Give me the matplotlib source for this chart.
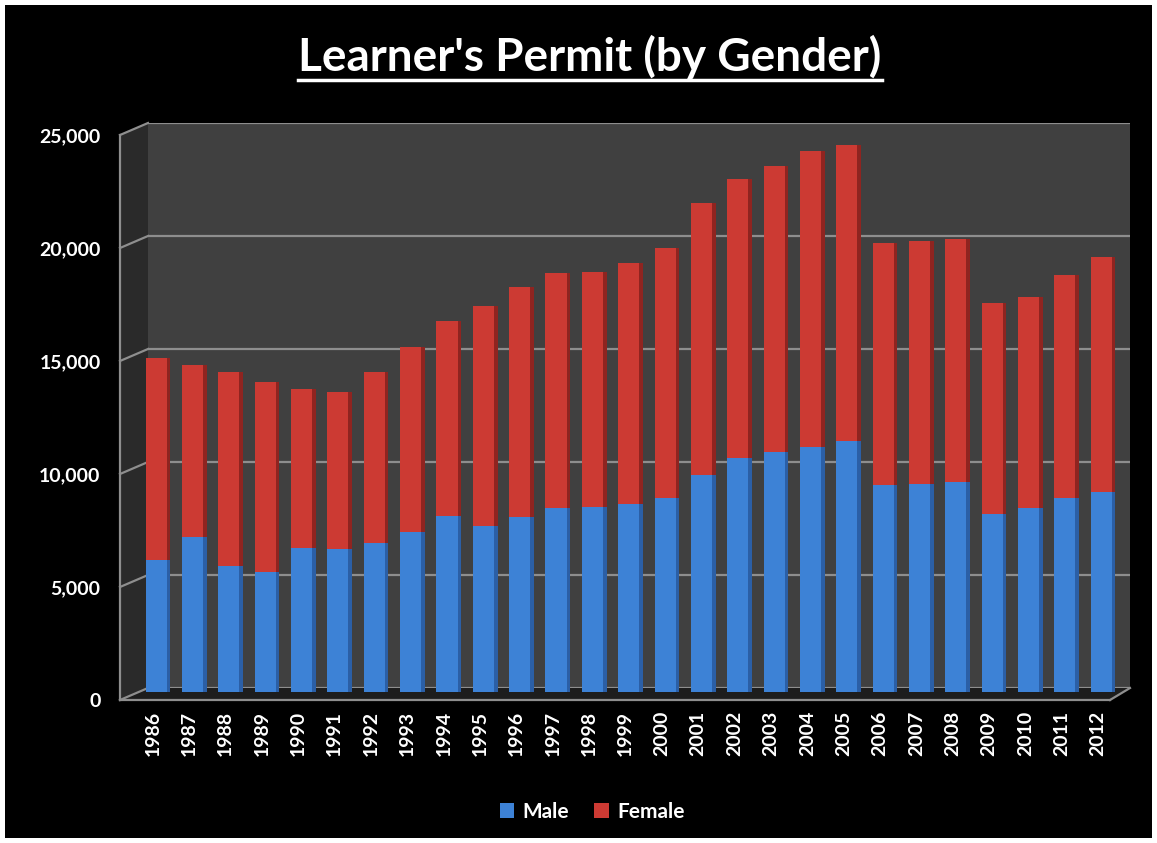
import matplotlib
matplotlib.use("Agg")
import matplotlib.pyplot as plt
from matplotlib.patches import Polygon, Rectangle, Patch
from matplotlib.lines import Line2D
from matplotlib.ticker import FuncFormatter

# ---------------------------------------------------------
# data
# ---------------------------------------------------------
years = [1986, 1987, 1988, 1989, 1990, 1991, 1992, 1993, 1994, 1995,
         1996, 1997, 1998, 1999, 2000, 2001, 2002, 2003, 2004, 2005,
         2006, 2007, 2008, 2009, 2010, 2011, 2012]
male = [5840, 6860, 5580, 5310, 6370, 6330, 6590, 7080, 7790, 7350,
        7740, 8140, 8190, 8320, 8580, 9600, 10350, 10620, 10840, 11110,
        9160, 9200, 9290, 7880, 8140, 8580, 8850]
total = [14780, 14470, 14160, 13720, 13410, 13270, 14160, 15270, 16420, 17080,
         17920, 18540, 18580, 18980, 19650, 21640, 22700, 23270, 23940, 24200,
         19870, 19960, 20040, 17210, 17480, 18450, 19250]
female = [t - m for t, m in zip(total, male)]

y_ticks = [0, 5000, 10000, 15000, 20000, 25000]
title = "Learner's Permit (by Gender)"

# ---------------------------------------------------------
# layout helpers (pixels -> figure fraction)
# ---------------------------------------------------------
W, H = 1157, 843
FONT = "Lato"


def fx(x):
    return x / W


def fy(y):
    return 1 - y / H


def box(left, top, right, bottom):
    return [fx(left), fy(bottom), (right - left) / W, (bottom - top) / H]


fig = plt.figure(figsize=(W / 100, H / 100), dpi=100, facecolor="white")

# black chart area with thin white border
fig.patches.append(Rectangle((fx(5), fy(838)), fx(1147), (833) / H,
                             transform=fig.transFigure, facecolor="black",
                             edgecolor="none", zorder=-5))

# back wall
WALL_TOP, WALL_BOT = 123, 688
back = fig.add_axes(box(148, WALL_TOP, 1130, WALL_BOT), zorder=0)
back.set_facecolor("#404040")
back.set_ylim(0, 25000)
back.set_yticks(y_ticks)
back.yaxis.grid(True, color="#8e8e8e", linewidth=1.6)
back.tick_params(left=False, bottom=False, labelleft=False, labelbottom=False)
for s in back.spines.values():
    s.set_visible(False)

# side wall + floor
scale = (WALL_BOT - WALL_TOP) / 25000
side = Polygon([(fx(120), fy(700 - 25000 * scale)), (fx(148), fy(WALL_TOP)),
                (fx(148), fy(WALL_BOT)), (fx(120), fy(700))],
               closed=True, transform=fig.transFigure,
               facecolor="#2a2a2a", edgecolor="none", zorder=1)
fig.patches.append(side)
floor = Polygon([(fx(120), fy(700)), (fx(148), fy(WALL_BOT)),
                 (fx(1130), fy(WALL_BOT)), (fx(1110), fy(700))],
                closed=True, transform=fig.transFigure,
                facecolor="#1d1d1d", edgecolor="none", zorder=1)
fig.patches.append(floor)
for v in y_ticks:
    fig.lines.append(Line2D([fx(120), fx(148)],
                            [fy(700 - v * scale), fy(WALL_BOT - v * scale)],
                            transform=fig.transFigure, color="#8e8e8e",
                            linewidth=1.6, zorder=2))
fig.lines.append(Line2D([fx(1110), fx(1130)], [fy(700), fy(WALL_BOT)],
                        transform=fig.transFigure, color="#8e8e8e",
                        linewidth=1.6, zorder=2))

# ---------------------------------------------------------
# bars
# ---------------------------------------------------------
STEP = 36.35
X0 = 158
xs = list(range(len(years)))

bars = fig.add_axes(box(X0 - 0.75 * STEP, 692 - 25000 * scale,
                        X0 + 26.75 * STEP, 692), zorder=3)
bars.set_xlim(-0.75, 26.75)
bars.set_ylim(0, 25000)
bars.patch.set_alpha(0)
bars.axis("off")

male_col, male_side = "#3d82d6", "#2b5fa6"
fem_col, fem_side = "#cc3a33", "#8f2420"
bw = 0.58
xf = [x - 0.05 for x in xs]
xside = [x - 0.05 + bw / 2 + 0.05 for x in xs]
bars.bar(xf, male, width=bw, color=male_col, linewidth=0)
bars.bar(xf, female, width=bw, bottom=male, color=fem_col, linewidth=0)
bars.bar(xside, male, width=0.1, color=male_side, linewidth=0)
bars.bar(xside, female, width=0.1, bottom=male, color=fem_side, linewidth=0)

# ---------------------------------------------------------
# front axis (labels)
# ---------------------------------------------------------
front = fig.add_axes(box(120, 700 - 25000 * scale, 1110, 700), zorder=4)
front.patch.set_alpha(0)
front.set_xlim((120 - 153) / STEP, (1110 - 153) / STEP)
front.set_ylim(0, 25000)
front.set_yticks(y_ticks)
front.yaxis.set_major_formatter(FuncFormatter(lambda v, p: f"{int(v):,}"))
front.set_xticks(xs)
front.set_xticklabels([str(y) for y in years], rotation=90)
front.tick_params(length=0, colors="white", labelsize=14, pad=14)
front.tick_params(axis="x", pad=8)
for lab in front.get_xticklabels() + front.get_yticklabels():
    lab.set_fontfamily(FONT)
    lab.set_fontweight("bold")
for name, s in front.spines.items():
    if name in ("left", "bottom"):
        s.set_color("#8e8e8e")
        s.set_linewidth(1.6)
    else:
        s.set_visible(False)

# ---------------------------------------------------------
# title with underline
# ---------------------------------------------------------
t = fig.text(0.51, fy(57), title, ha="center", va="center", color="white",
             fontsize=33, fontweight="bold", fontfamily=FONT)
fig.canvas.draw()
bb = t.get_window_extent()
fig.lines.append(Line2D([bb.x0 / W, bb.x1 / W], [fy(80), fy(80)],
                        transform=fig.transFigure, color="white",
                        linewidth=2.5, zorder=5))

# legend
handles = [Patch(facecolor=male_col, label="Male"),
           Patch(facecolor=fem_col, label="Female")]
fig.legend(handles=handles, loc="center", bbox_to_anchor=(fx(592), fy(812)),
           ncol=2, frameon=False, labelcolor="white",
           prop={"family": FONT, "size": 15, "weight": "bold"},
           handlelength=0.7, handleheight=0.7, handletextpad=0.4,
           columnspacing=1.2)

fig.savefig("out.png", dpi=100, facecolor=fig.get_facecolor())
